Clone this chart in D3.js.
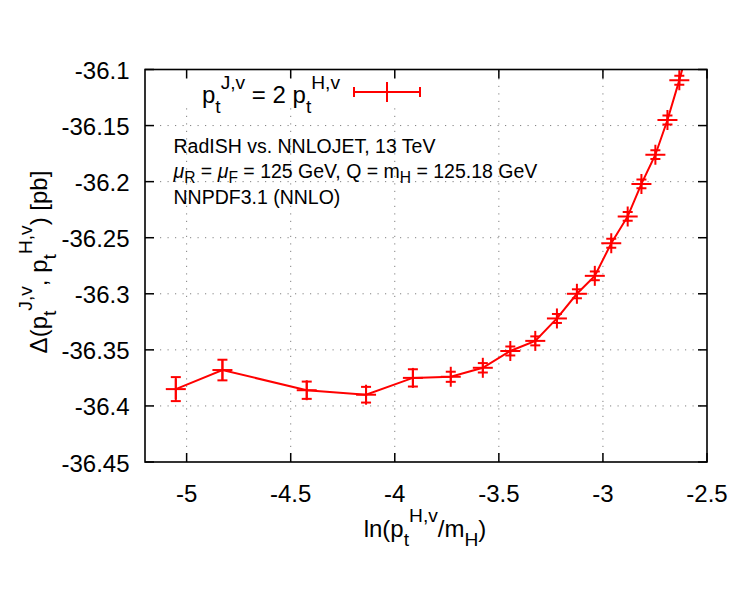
<!DOCTYPE html>
<html lang="en">
<head>
    <meta charset="UTF-8">
    <title>Delta vs ln(pt/mH)</title>
    <script src="https://cdn.jsdelivr.net/npm/d3@7/dist/d3.min.js"></script>
    <style>
        body { margin: 0; background: #fff; }
        svg { display: block; font-family: "Liberation Sans", Arial, Helvetica, sans-serif; }
    </style>
</head>
<body>
<div id="chart"></div>
<script>
// data
const xVals = [-5.052, -4.828, -4.423, -4.138, -3.913, -3.731, -3.577, -3.445, -3.325,
               -3.221, -3.125, -3.039, -2.960, -2.881, -2.815, -2.748, -2.690, -2.633, -2.578];
const yVals = [-36.385, -36.368, -36.386, -36.390, -36.375, -36.374, -36.366, -36.351, -36.342,
               -36.322, -36.300, -36.284, -36.255, -36.231, -36.202, -36.176, -36.145, -36.1095, -36.072];
const yErr  = [0.0107, 0.0092, 0.0077, 0.0070, 0.0077, 0.0045, 0.0042, 0.0040, 0.0040,
               0.0040, 0.0040, 0.0039, 0.0040, 0.0039, 0.0039, 0.0039, 0.0040, 0.0040, 0.0040];
const xTicks = [-5, -4.5, -4, -3.5, -3, -2.5];
const yTicks = [-36.45, -36.4, -36.35, -36.3, -36.25, -36.2, -36.15, -36.1];
const notes = [
    [["RadISH vs. NNLOJET, 13 TeV"]],
    [["\u03BC", "", true], ["R", "sub"], [" = "], ["\u03BC", "", true], ["F", "sub"],
     [" = 125 GeV, Q = m"], ["H", "sub"], [" = 125.18 GeV"]],
    [["NNPDF3.1 (NNLO)"]]
];

const width = 747, height = 608;
const pL = 145, pR = 707, pT = 69.5, pB = 462;
const red = "#ff0000";
const big = 24, small = 19.5;

const svg = d3.select("#chart").append("svg")
    .attr("width", width)
    .attr("height", height);

const x = d3.scaleLinear().domain([-5.2, -2.5]).range([pL, pR]);
const y = d3.scaleLinear().domain([-36.45, -36.1]).range([pB, pT]);

// gnuplot-like enhanced text: [text, "sub"|"sup"|"", italic]
function rich(sel, parts, size, subShift = 0.4) {
    let cur = 0;
    parts.forEach(p => {
        const kind = p[1] || "";
        const target = kind === "sup" ? -0.6 * size : kind === "sub" ? subShift * size : 0;
        sel.append("tspan")
            .attr("dy", target - cur)
            .attr("font-size", kind ? size * 0.8 : size)
            .attr("font-style", p[2] ? "italic" : null)
            .text(p[0]);
        cur = target;
    });
}

// grid
const grid = svg.append("g")
    .attr("stroke", "#808080")
    .attr("stroke-width", 1)
    .attr("stroke-dasharray", "1.2,6.3");
grid.selectAll("line.gx")
    .data(xTicks.filter(t => t > -5.2 && t < -2.5))
    .join("line")
    .attr("class", "gx")
    .attr("x1", d => x(d)).attr("x2", d => x(d))
    .attr("y1", pB).attr("y2", pT);
grid.selectAll("line.gy")
    .data(yTicks.filter(t => t > -36.45 && t < -36.1))
    .join("line")
    .attr("class", "gy")
    .attr("x1", pL).attr("x2", pR)
    .attr("y1", d => y(d)).attr("y2", d => y(d));

// opaque key box
svg.append("rect")
    .attr("x", 183).attr("y", pT + 1)
    .attr("width", 250).attr("height", 37)
    .attr("fill", "#fff");

// ticks on all four sides, pointing in
const tickLen = 9;
const ticks = svg.append("g").attr("stroke", "#000").attr("stroke-width", 1.5);
xTicks.forEach(t => {
    ticks.append("line").attr("x1", x(t)).attr("x2", x(t)).attr("y1", pB).attr("y2", pB - tickLen);
    ticks.append("line").attr("x1", x(t)).attr("x2", x(t)).attr("y1", pT).attr("y2", pT + tickLen);
});
yTicks.forEach(t => {
    ticks.append("line").attr("x1", pL).attr("x2", pL + tickLen).attr("y1", y(t)).attr("y2", y(t));
    ticks.append("line").attr("x1", pR).attr("x2", pR - tickLen).attr("y1", y(t)).attr("y2", y(t));
});

// tick labels
svg.append("g").selectAll("text")
    .data(xTicks)
    .join("text")
    .attr("x", d => x(d))
    .attr("y", 502)
    .attr("text-anchor", "middle")
    .attr("font-size", big)
    .text(d => d);
svg.append("g").selectAll("text")
    .data(yTicks)
    .join("text")
    .attr("x", 129.5)
    .attr("y", d => y(d) + 9.5)
    .attr("text-anchor", "end")
    .attr("font-size", big)
    .text(d => d);

// axis titles
const xt = svg.append("text")
    .attr("x", 425).attr("y", 536.5)
    .attr("text-anchor", "middle");
rich(xt, [["ln(p"], ["t", "sub"], ["H,v", "sup"], ["/m"], ["H", "sub"], [")"]], big);

const yt = svg.append("text")
    .attr("transform", "translate(46.5,262) rotate(-90)")
    .attr("text-anchor", "middle");
rich(yt, [["\u0394(p"], ["t", "sub"], ["J,v", "sup"], [", p"], ["t", "sub"], ["H,v", "sup"], [") [pb]"]], big);

// annotations
notes.forEach((line, i) => {
    const t = svg.append("text")
        .attr("x", 173.5)
        .attr("y", 152.7 + i * 25.7);
    rich(t, line, small, 0.22);
});

// key
const kt = svg.append("text")
    .attr("x", 340).attr("y", 103)
    .attr("text-anchor", "end");
rich(kt, [["p"], ["t", "sub"], ["J,v", "sup"], [" = 2 p"], ["t", "sub"], ["H,v", "sup"]], big);

const key = svg.append("g").attr("stroke", red).attr("stroke-width", 2);
const ky = 92, kx0 = 354, kx1 = 420, kxm = (kx0 + kx1) / 2;
key.append("line").attr("x1", kx0).attr("x2", kx1).attr("y1", ky).attr("y2", ky);
key.append("line").attr("x1", kx0).attr("x2", kx0).attr("y1", ky - 5).attr("y2", ky + 5);
key.append("line").attr("x1", kx1).attr("x2", kx1).attr("y1", ky - 5).attr("y2", ky + 5);
key.append("line").attr("x1", kxm).attr("x2", kxm).attr("y1", ky - 10).attr("y2", ky + 10);

// data
svg.append("clipPath").attr("id", "clip")
    .append("rect")
    .attr("x", pL).attr("y", pT)
    .attr("width", pR - pL).attr("height", pB - pT);

const pts = xVals.map((v, i) => ({ x: v, y: yVals[i], e: yErr[i] }));
const plot = svg.append("g").attr("clip-path", "url(#clip)");

plot.append("path")
    .datum(pts)
    .attr("fill", "none")
    .attr("stroke", red)
    .attr("stroke-width", 2)
    .attr("d", d3.line().x(d => x(d.x)).y(d => y(d.y)));

const marks = plot.selectAll("g.pt")
    .data(pts)
    .join("g")
    .attr("class", "pt")
    .attr("stroke", red)
    .attr("stroke-width", 2);
marks.append("line")
    .attr("x1", d => x(d.x)).attr("x2", d => x(d.x))
    .attr("y1", d => y(d.y - d.e)).attr("y2", d => y(d.y + d.e));
marks.append("line")
    .attr("x1", d => x(d.x) - 5).attr("x2", d => x(d.x) + 5)
    .attr("y1", d => y(d.y - d.e)).attr("y2", d => y(d.y - d.e));
marks.append("line")
    .attr("x1", d => x(d.x) - 5).attr("x2", d => x(d.x) + 5)
    .attr("y1", d => y(d.y + d.e)).attr("y2", d => y(d.y + d.e));
// plus point
marks.append("line")
    .attr("x1", d => x(d.x) - 10).attr("x2", d => x(d.x) + 10)
    .attr("y1", d => y(d.y)).attr("y2", d => y(d.y));
marks.append("line")
    .attr("x1", d => x(d.x)).attr("x2", d => x(d.x))
    .attr("y1", d => y(d.y) - 10).attr("y2", d => y(d.y) + 10);

// border
svg.append("rect")
    .attr("x", pL).attr("y", pT)
    .attr("width", pR - pL).attr("height", pB - pT)
    .attr("fill", "none")
    .attr("stroke", "#000")
    .attr("stroke-width", 1.6);
</script>
</body>
</html>
